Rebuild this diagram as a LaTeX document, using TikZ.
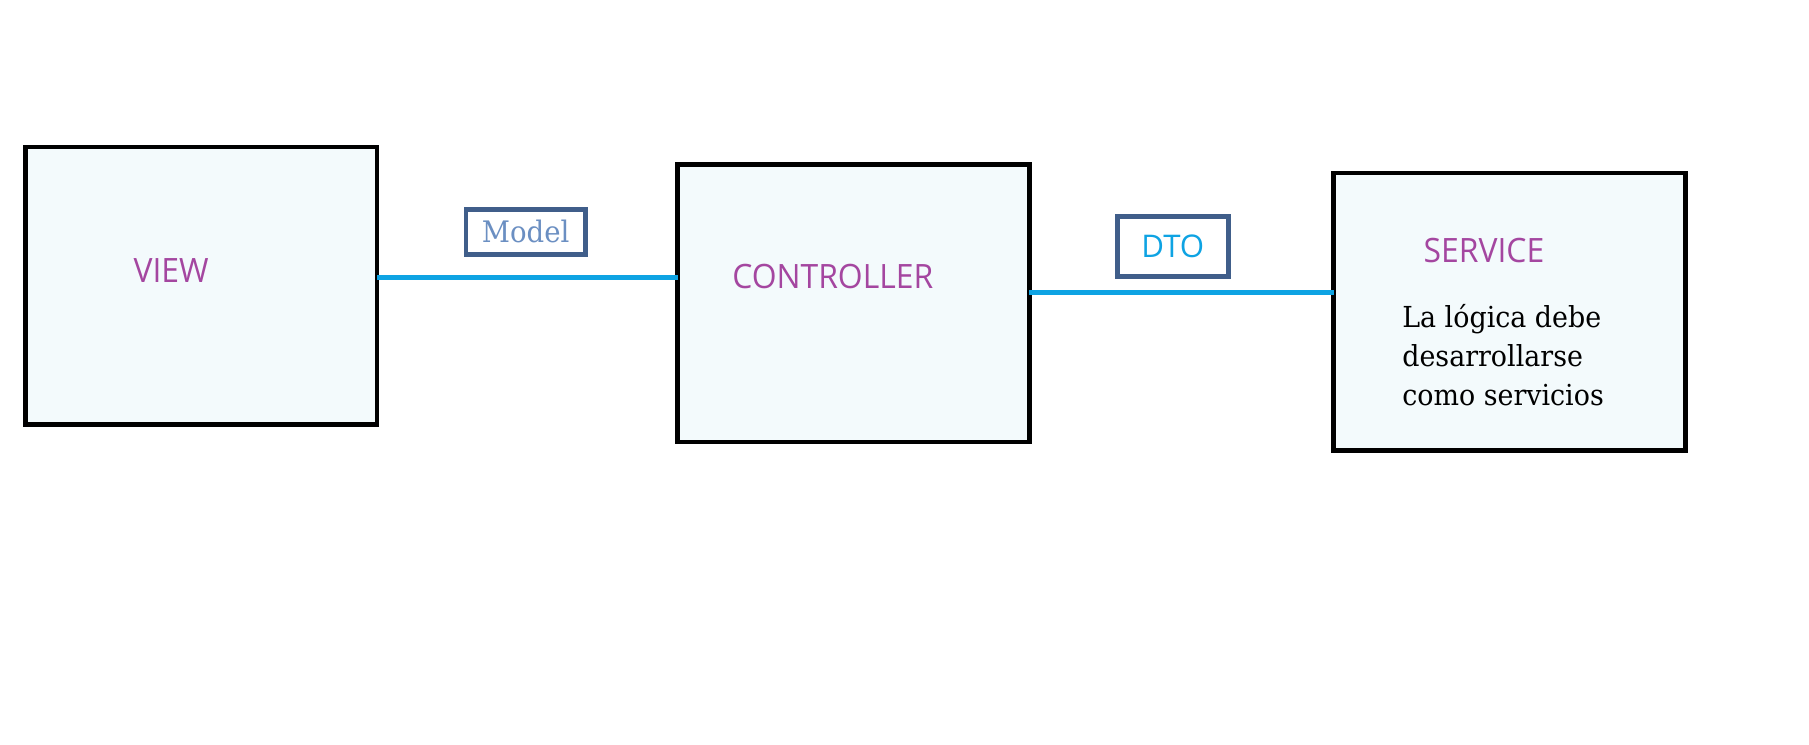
\documentclass[tikz,border=0pt]{standalone}
\usepackage{fontspec}
\setmainfont[FakeStretch=0.93]{DejaVu Serif}
\newfontfamily\labelfont{Open Sans}
\newfontfamily\namefont[FakeStretch=0.95]{Open Sans}
\usepackage{tikz}
\usetikzlibrary{positioning}
\definecolor{layerpurple}{HTML}{A446A0}
\definecolor{linkblue}{HTML}{0EA3E3}
\definecolor{tagframe}{HTML}{405E8A}
\definecolor{modeltext}{HTML}{6B8FC2}
\definecolor{boxfill}{HTML}{F3FAFC}
\tikzset{layer/.style={draw=black, line width=2pt, fill=boxfill, minimum width=152pt, minimum height=120pt, inner sep=0pt, outer sep=0pt},
    layername/.style={text=layerpurple, font=\namefont\fontsize{14.5}{17}\selectfont},
    tag/.style={draw=tagframe, line width=2pt, fill=white, inner sep=0pt, outer sep=0pt},
    link/.style={draw=linkblue, line width=2pt}}

\begin{document}
\begin{tikzpicture}[x=0.5pt, y=-0.5pt]
                 \useasboundingbox (0,0) rectangle (1564,644);
                 \node[layer] (view) at (174,247) {};
                 \node[layer] (ctrl) at (738,262) {};
                 \node[layer] (service) at (1305,269.5) {};
                 \node[layername] (viewname) at (148,234) {VIEW};
                 \node[layername] (ctrlname) at (720,239) {CONTROLLER};
                 \node[layername] (servicename) at (1283,217) {SERVICE};
                 \node[anchor=north west, align=left, inner sep=0pt, font=\fontsize{12.5}{16.9}\selectfont] (servicetext) at (1212,263) {La lógica debe\\desarrollarse\\como servicios};
                 \draw[link] (view.east |- 0,240) -- (ctrl.west |- 0,240);
                 \draw[link] (ctrl.east |- 0,253) -- (service.west |- 0,253);
                 \node[tag, minimum width=51.5pt, minimum height=19.5pt, text=modeltext, font=\fontsize{12.8}{14}\selectfont] (model) at (454.5,200.5) {Model};
                 \node[tag, minimum width=48pt, minimum height=26pt, text=linkblue, font=\labelfont\fontsize{13.5}{16}\selectfont] (dto) at (1014,213) {DTO};
             \end{tikzpicture}
\end{document}
